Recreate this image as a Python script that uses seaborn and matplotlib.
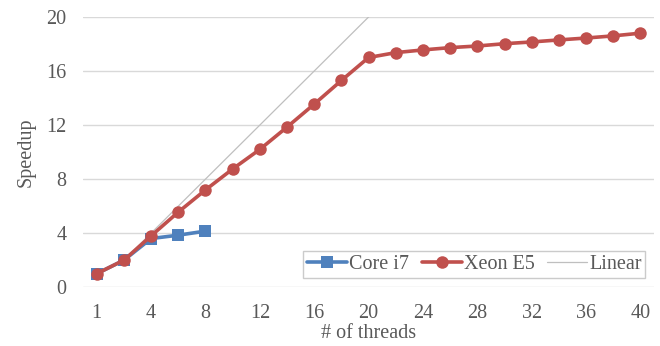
import numpy as np
import pandas as pd
import matplotlib.pyplot as plt
import seaborn as sns

threads = [1, 2, 4, 6, 8, 10, 12, 14, 16, 18, 20, 22, 24, 26, 28, 30, 32, 34, 36, 38, 40]
core_i7 = [1.0, 2.0, 3.6, 3.85, 4.15]
xeon_e5 = [1.0, 2.0, 3.8, 5.56, 7.2, 8.75, 10.2, 11.85, 13.55, 15.3, 17.0,
           17.36, 17.56, 17.73, 17.85, 18.02, 18.15, 18.3, 18.44, 18.6, 18.8]
linear = threads

sns.set_style("white")
plt.rcParams['font.family'] = ['Liberation Serif', 'DejaVu Serif']
txt = '#595959'

idx = np.arange(len(threads))

fig, ax = plt.subplots(figsize=(6.6, 3.46), dpi=100)
fig.subplots_adjust(left=0.126, right=0.991, top=0.951, bottom=0.17)

sns.lineplot(x=idx[:len(core_i7)], y=core_i7, ax=ax, color='#4F81BD', lw=2.6,
             marker='s', markersize=8, markeredgewidth=0, label='Core i7', zorder=4)
sns.lineplot(x=idx, y=xeon_e5, ax=ax, color='#C0504D', lw=2.6,
             marker='o', markersize=9, markeredgewidth=0, label='Xeon E5', zorder=5)
sns.lineplot(x=idx, y=linear, ax=ax, color='#BFBFBF', lw=0.9, label='Linear', zorder=3)

ax.set_xlim(-0.5, len(threads) - 0.5)
ax.set_ylim(0, 20)
ax.set_yticks(range(0, 21, 4))
ax.set_xticks(idx[::2])
ax.set_xticklabels([str(t) for t in threads[::2]])
ax.yaxis.grid(True, color='#D9D9D9', lw=1)
ax.set_axisbelow(True)
for s in ax.spines.values():
    s.set_visible(False)
ax.tick_params(axis='both', length=0, labelsize=14.5, labelcolor=txt)
ax.tick_params(axis='x', pad=12)
ax.tick_params(axis='y', pad=12)
ax.set_xlabel('# of threads', fontsize=14.5, color=txt, labelpad=1)
ax.set_ylabel('Speedup', fontsize=14.5, color=txt, labelpad=8)

leg = ax.legend(loc='lower right', bbox_to_anchor=(0.985, 0.035), ncol=3, fontsize=14.5,
                frameon=True, fancybox=False, handlelength=2.0, handletextpad=0.1,
                columnspacing=0.6, borderpad=0.2, borderaxespad=0)
leg.get_frame().set_edgecolor('#BFBFBF')
leg.get_frame().set_linewidth(1)
for t in leg.get_texts():
    t.set_color(txt)

plt.savefig('out.png', dpi=100)
plt.close()
